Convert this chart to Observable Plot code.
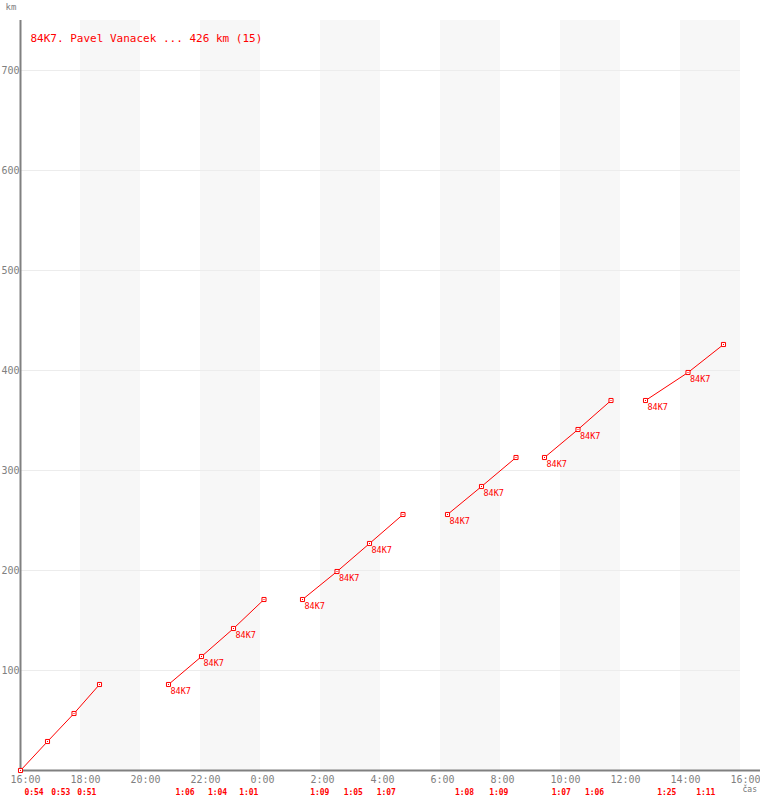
<!DOCTYPE html>
<html>
<head>
<meta charset="utf-8">
<script src="https://cdn.jsdelivr.net/npm/d3@7"></script>
<script src="https://cdn.jsdelivr.net/npm/@observablehq/plot@0.6"></script>
<style>
  html, body { margin: 0; padding: 0; background: #fff; }
  #chart svg { display: block; }
</style>
</head>
<body>
<div id="chart"></div>
<script>
const titleText = "84K7. Pavel Vanacek ... 426 km (15)";
const pointTime = ["16:00","16:54","17:47","18:38","20:56","22:02","23:06","0:07","1:24","2:33","3:38","4:45","6:14","7:22","8:31","9:28","10:35","11:41","12:50","14:15","15:26"];
const pointKm = [0,29,57,86,86,114,142,171,171,199,227,256,256,284,313,313,341,370,370,398,426];
const pointSegment = [1,1,1,1,2,2,2,2,3,3,3,3,4,4,4,5,5,5,6,6,6];
const pointLabel = ["","","","","84K7","84K7","84K7","","84K7","84K7","84K7","","84K7","84K7","","84K7","84K7","","84K7","84K7",""];
const legDuration = ["0:54","0:53","0:51","1:06","1:04","1:01","1:09","1:05","1:07","1:08","1:09","1:07","1:06","1:25","1:11"];
const stripeStart = ["18:00","22:00","2:00","6:00","10:00","14:00"];
const xTickLabels = ["16:00","18:00","20:00","22:00","0:00","2:00","4:00","6:00","8:00","10:00","12:00","14:00","16:00"];
const yTicks = [100,200,300,400,500,600,700];

function toH(s) {
  const [h, m] = s.split(":").map(Number);
  let v = h + m / 60 - 16;
  if (v < 0) v += 24;
  return v;
}

const points = pointTime.map((t, i) => ({x: toH(t), km: pointKm[i], seg: pointSegment[i], label: pointLabel[i]}));
const legs = [];
for (let i = 1; i < points.length; i++) {
  if (points[i].seg === points[i - 1].seg) legs.push({x: (points[i].x + points[i - 1].x) / 2});
}
legs.forEach((d, i) => d.text = legDuration[i]);
const stripes = stripeStart.map(s => ({x1: toH(s), x2: toH(s) + 2}));
const xTicks = xTickLabels.map((s, i) => i === xTickLabels.length - 1 ? 24 : toH(s));

const gray = "#808080";
const red = "#ff0000";
const mono = "DejaVu Sans Mono, monospace";

const chart = Plot.plot({
  width: 760,
  height: 800,
  marginLeft: 20,
  marginRight: 20,
  marginTop: 20,
  marginBottom: 30,
  style: {fontFamily: mono, background: "#fff"},
  x: {domain: [0, 24]},
  y: {domain: [0, 750]},
  marks: [
    Plot.rect(stripes, {x1: "x1", x2: "x2", fill: "#f7f7f7"}),
    Plot.ruleY(yTicks, {stroke: "#ececec", strokeWidth: 1}),
    Plot.axisY({ticks: yTicks, tickSize: 0, tickPadding: 1, fontSize: 10, fill: gray, label: null}),
    Plot.axisX({ticks: xTicks, tickSize: 0, tickPadding: 5, fontSize: 10, fill: gray, label: null,
      textAnchor: "start", dx: -10, tickFormat: (d, i) => xTickLabels[i]}),
    Plot.ruleX([0], {y1: 0, y2: 750, stroke: gray, strokeWidth: 2}),
    Plot.ruleY([0], {x1: 0, x2: 24 + 2 / 3, stroke: gray, strokeWidth: 2}),
    Plot.line(points, {x: "x", y: "km", z: "seg", stroke: red, strokeWidth: 1}),
    Plot.dot(points, {x: "x", y: "km", symbol: "square", r: 2.3, stroke: red, strokeWidth: 1, fill: "#fff"}),
    Plot.dot(points, {x: "x", y: "km", symbol: "square", r: 0.6, fill: red, stroke: "none"}),
    Plot.text(points.filter(d => d.label), {x: "x", y: "km", text: "label", fill: red, fontSize: 8.5,
      textAnchor: "start", lineAnchor: "middle", dx: 2, dy: 7, fontFamily: mono}),
    Plot.text(legs, {x: "x", text: "text", frameAnchor: "bottom", dy: 22, lineAnchor: "middle",
      fill: red, fontSize: 8, fontWeight: "bold", fontFamily: mono}),
    Plot.text([titleText], {frameAnchor: "top-left", dx: 10, dy: 18, lineAnchor: "middle", textAnchor: "start",
      fill: red, fontSize: 11, fontFamily: mono, style: {letterSpacing: "-0.6px"}}),
    Plot.text(["km"], {frameAnchor: "top-left", dx: -15, dy: -13, lineAnchor: "middle", textAnchor: "start",
      fill: gray, fontSize: 9, fontFamily: mono}),
    Plot.text(["čas"], {frameAnchor: "bottom-right", dx: 2, dy: 19, lineAnchor: "middle", textAnchor: "start",
      fill: "#777", fontSize: 8, fontFamily: mono})
  ]
});
document.getElementById("chart").appendChild(chart);
</script>
</body>
</html>
